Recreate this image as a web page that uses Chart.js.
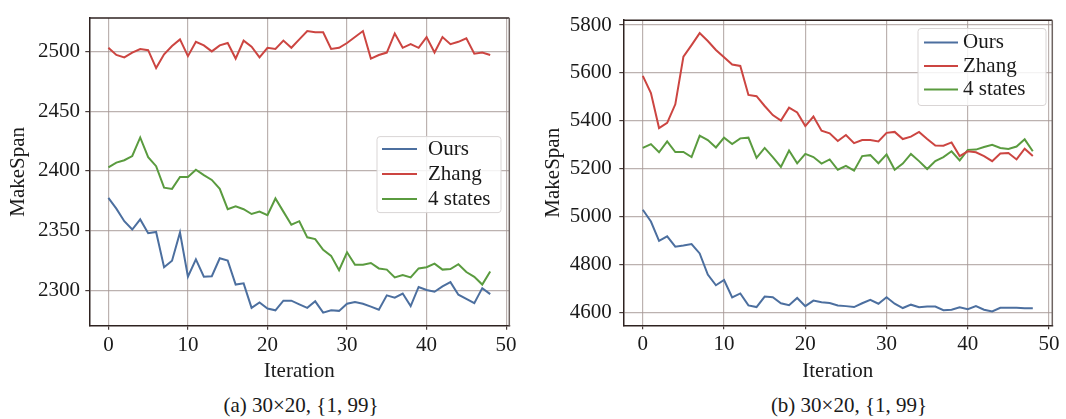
<!DOCTYPE html>
<html>
<head>
<meta charset="utf-8">
<script src="https://cdn.jsdelivr.net/npm/chart.js@4"></script>
<style>
  body { margin: 0; background: #fff; }
  #wrap { position: relative; width: 1066px; height: 419px; overflow: hidden; }
  canvas { position: absolute; top: 0; }
  .cap { position: absolute; top: 392px; width: 300px; text-align: center;
         font: 21px "Liberation Serif", serif; line-height: 26px; color: #1a1a1a; }
</style>
</head>
<body>
<div id="wrap">
  <canvas id="chartA" width="533" height="388" style="left:0"></canvas>
  <canvas id="chartB" width="533" height="388" style="left:533px"></canvas>
  <div class="cap" style="left:151px">(a) 30×20, {1, 99}</div>
  <div class="cap" style="left:699px">(b) 30×20, {1, 99}</div>
</div>
<script>
// --- data ---
const iterations = [0, 1, 2, 3, 4, 5, 6, 7, 8, 9, 10, 11, 12, 13, 14, 15, 16, 17, 18, 19,
  20, 21, 22, 23, 24, 25, 26, 27, 28, 29, 30, 31, 32, 33, 34, 35, 36, 37, 38, 39,
  40, 41, 42, 43, 44, 45, 46, 47, 48];
const seriesNames = ['Ours', 'Zhang', '4 states'];
const xTicks = [0, 10, 20, 30, 40, 50];

// (a)
const oursA = [2377.5, 2368.5, 2358, 2351, 2359.5, 2348, 2349, 2319.5, 2325, 2348.5,
  2311.5, 2326, 2311.5, 2312, 2327, 2325, 2305, 2306, 2285.5, 2290,
  2285, 2283.5, 2291.5, 2291.5, 2288.5, 2285.5, 2291, 2281.5, 2283.5, 2283,
  2289, 2290.5, 2289, 2286.5, 2284, 2296, 2294, 2297.5, 2287, 2303,
  2300.5, 2299, 2303.5, 2307, 2296.5, 2293, 2289.5, 2302, 2297];
const zhangA = [2503, 2497, 2495, 2499, 2502, 2501, 2486, 2497.5, 2504.5, 2510,
  2496, 2508, 2505, 2500, 2505, 2507, 2494, 2509, 2504, 2495,
  2503, 2502, 2509, 2503, 2510, 2517, 2516, 2516, 2502, 2503,
  2507, 2512, 2517, 2494, 2497, 2499, 2515, 2503, 2506, 2503,
  2512, 2499, 2512, 2506, 2508, 2511, 2498, 2499, 2497];
const statesA = [2403, 2407, 2409, 2412.5, 2428, 2411.5, 2404, 2386, 2385, 2395,
  2395, 2401, 2396.5, 2392.5, 2385, 2368, 2370.5, 2368, 2364, 2366,
  2363, 2377, 2366, 2355, 2358, 2344.5, 2343, 2334, 2329, 2317,
  2332, 2321.5, 2321.5, 2323, 2318.5, 2317.5, 2311, 2313, 2311, 2318.5,
  2319.5, 2322.5, 2317.5, 2318, 2322, 2315.5, 2311.5, 2305, 2316];
const yTicksA = [2300, 2350, 2400, 2450, 2500];

// (b)
const oursB = [5029, 4980, 4899, 4918, 4875, 4880, 4886, 4847, 4759, 4714,
  4736, 4663, 4680, 4630, 4623, 4667, 4664, 4639, 4631, 4661,
  4627, 4650, 4643, 4640, 4630, 4627, 4623, 4639, 4653, 4637,
  4664, 4637, 4619, 4633, 4622, 4625, 4625, 4610, 4612, 4622,
  4614, 4627, 4612, 4605, 4620, 4620, 4620, 4618, 4618];
const zhangB = [5588, 5516, 5370, 5392, 5469, 5668, 5716, 5766, 5733, 5696,
  5665, 5635, 5629, 5508, 5503, 5462, 5424, 5401, 5455, 5435,
  5378, 5418, 5359, 5348, 5316, 5341, 5307, 5320, 5320, 5314,
  5350, 5354, 5324, 5334, 5354, 5324, 5297, 5296, 5310, 5253,
  5273, 5269, 5253, 5232, 5264, 5266, 5239, 5284, 5253];
const statesB = [5287, 5303, 5269, 5314, 5270, 5270, 5249, 5338, 5320, 5289,
  5330, 5303, 5327, 5330, 5246, 5287, 5249, 5208, 5276, 5223,
  5262, 5249, 5222, 5239, 5196, 5212, 5192, 5253, 5257, 5223,
  5260, 5196, 5222, 5262, 5232, 5199, 5232, 5249, 5273, 5235,
  5279, 5280, 5291, 5300, 5287, 5283, 5293, 5323, 5273];
const yTicksB = [4600, 4800, 5000, 5200, 5400, 5600, 5800];

// --- styling ---
const FONT = '"Liberation Serif", "Times New Roman", serif';
const colors = ['#4c6f9f', '#cc4541', '#5a9b3f'];
const gridColor = 'rgba(165,152,150,0.75)';
const spineColor = '#2e2220';

// legend drawn inside the plot, matplotlib style
const boxLegend = {
  id: 'boxLegend',
  afterDraw(chart, args, o) {
    const ctx = chart.ctx, a = chart.chartArea;
    const x = a.right - o.right - o.width, y = a.top + o.top;
    ctx.save();
    ctx.fillStyle = 'rgba(255,255,255,0.85)';
    ctx.strokeStyle = '#d9d5d5';
    ctx.lineWidth = 1;
    ctx.beginPath();
    ctx.roundRect(x, y, o.width, o.height, 3);
    ctx.fill();
    ctx.stroke();
    ctx.font = '21px ' + FONT;
    ctx.textBaseline = 'middle';
    chart.data.datasets.forEach((ds, i) => {
      const cy = y + o.first + i * o.step;
      ctx.strokeStyle = ds.borderColor;
      ctx.lineWidth = 2;
      ctx.beginPath();
      ctx.moveTo(x + o.lineX0, cy);
      ctx.lineTo(x + o.lineX1, cy);
      ctx.stroke();
      ctx.fillStyle = '#1a1a1a';
      ctx.fillText(ds.label, x + o.textX, cy);
    });
    ctx.restore();
  }
};

// top and right spines
const frame = {
  id: 'frame',
  afterDatasetsDraw(chart) {
    const ctx = chart.ctx, a = chart.chartArea;
    ctx.save();
    ctx.lineWidth = 1.5;
    ctx.strokeStyle = spineColor;
    ctx.beginPath(); ctx.moveTo(a.left, a.top); ctx.lineTo(a.right, a.top); ctx.stroke();
    ctx.strokeStyle = '#6e6462';
    ctx.beginPath(); ctx.moveTo(a.right, a.top); ctx.lineTo(a.right, a.bottom); ctx.stroke();
    ctx.restore();
  }
};

function makeChart(id, series, yMin, yMax, yTicks, lay) {
  const datasets = series.map((vals, i) => ({
    label: seriesNames[i],
    data: iterations.map((it, k) => ({ x: it, y: vals[k] })),
    borderColor: colors[i],
    borderWidth: 2,
    pointRadius: 0,
    tension: 0,
    fill: false
  }));

  return new Chart(document.getElementById(id), {
    type: 'line',
    data: { datasets },
    plugins: [frame, boxLegend],
    options: {
      responsive: false,
      animation: false,
      layout: { padding: lay.padding },
      plugins: {
        legend: { display: false },
        tooltip: { enabled: false },
        boxLegend: lay.legend
      },
      scales: {
        x: {
          type: 'linear',
          min: -2.4,
          max: 50.4,
          afterBuildTicks: s => { s.ticks = xTicks.map(v => ({ value: v })); },
          afterFit: s => { s.height = lay.xHeight; },
          grid: { color: gridColor, lineWidth: 1.2, tickLength: 4, tickColor: '#4a3e3c' },
          border: { color: spineColor, width: 1.5 },
          ticks: { font: { family: FONT, size: 21 }, color: '#1a1a1a', padding: 3,
                   maxRotation: 0, autoSkip: false },
          title: { display: true, text: 'Iteration', color: '#1a1a1a',
                   font: { family: FONT, size: 21 }, padding: { top: 0, bottom: 4 } }
        },
        y: {
          min: yMin,
          max: yMax,
          afterBuildTicks: s => { s.ticks = yTicks.map(v => ({ value: v })); },
          afterFit: s => { s.width = lay.yWidth; },
          grid: { color: gridColor, lineWidth: 1.2, tickLength: 4, tickColor: '#4a3e3c' },
          border: { color: spineColor, width: 1.5 },
          ticks: { font: { family: FONT, size: 21 }, color: '#1a1a1a', padding: lay.yPad,
                   callback: v => String(v) },
          title: { display: true, text: 'MakeSpan', color: '#1a1a1a',
                   font: { family: FONT, size: 21 }, padding: { top: lay.yTitlePad, bottom: 0 } }
        }
      }
    }
  });
}

makeChart('chartA', [oursA, zhangA, statesA], 2270.6, 2528, yTicksA, {
  padding: { left: 0, top: 12.3, right: 23.7, bottom: 0 },
  yWidth: 89.3, xHeight: 62.3, yPad: 5.3, yTitlePad: 5.4,
  legend: { right: 8.3, top: 118.7, width: 124, height: 76,
            first: 12.5, step: 25, lineX0: 5, lineX1: 40, textX: 51 }
});

makeChart('chartB', [oursB, zhangB, statesB], 4547, 5820, yTicksB, {
  padding: { left: 0, top: 11.7, right: 13.7, bottom: 0 },
  yWidth: 90.3, xHeight: 62.7, yPad: 7.6, yTitlePad: 7.4,
  legend: { right: 6.3, top: 8.3, width: 128, height: 77,
            first: 14, step: 23.5, lineX0: 6, lineX1: 40, textX: 45 }
});
</script>
</body>
</html>
